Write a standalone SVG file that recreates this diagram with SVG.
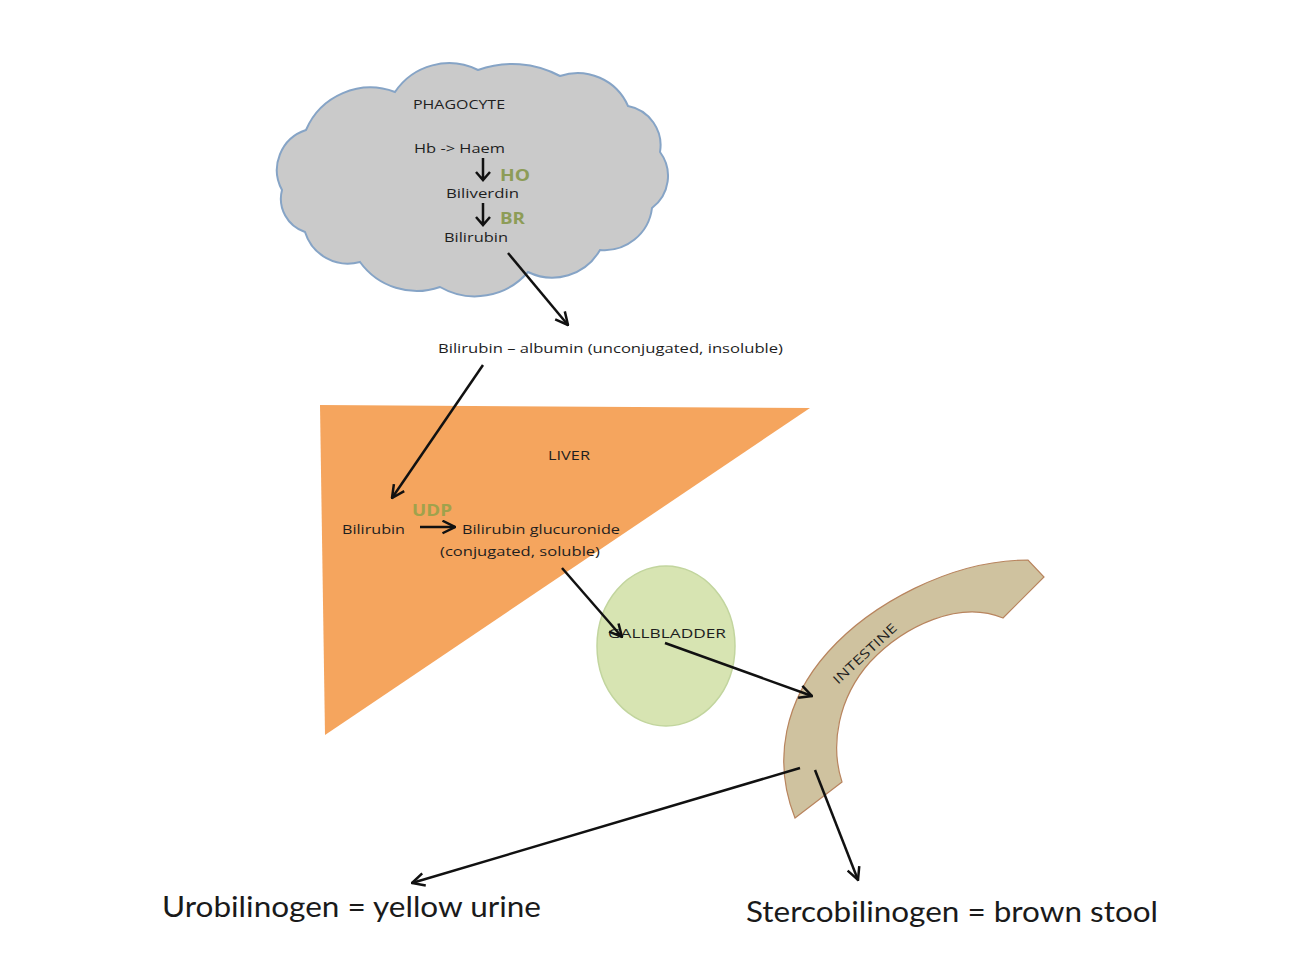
<svg xmlns="http://www.w3.org/2000/svg" width="1292" height="976" viewBox="0 0 1292 976">
<defs>
<style>
.t{font-family:"Open Sans","Liberation Sans",sans-serif;font-size:13px;fill:#1e1e1e}
.g{font-family:"Open Sans","Liberation Sans",sans-serif;font-size:16px;font-weight:bold}
.big{font-family:"Lato","Open Sans","Liberation Sans",sans-serif;font-size:29px;fill:#1a1a1a}
.c{stroke:#111;stroke-width:2.5;fill:none;marker-end:url(#ah)}
</style>
<marker id="ah" viewBox="0 0 12 12" refX="11" refY="6" markerWidth="6" markerHeight="6" orient="auto" markerUnits="strokeWidth">
<path d="M1,1 L11,6 L1,11" fill="none" stroke="#111" stroke-width="2"/>
</marker>
</defs>
<rect width="1292" height="976" fill="#fff"/>

<g id="phagocyte">
<path d="M305,232 A35,35 0 0 1 282,190 A42,42 0 0 1 306,130 A70,70 0 0 1 395,92 A65,65 0 0 1 478,70 A100,100 0 0 1 560,76 A55,55 0 0 1 628,106 A40,40 0 0 1 660,152 A40,40 0 0 1 652,208 A48,48 0 0 1 600,250 A55,55 0 0 1 528,272 A70,70 0 0 1 440,287 A70,70 0 0 1 360,262 A45,45 0 0 1 305,232 Z" fill="#cacaca" stroke="#86a4c6" stroke-width="2"/>
<text class="t" x="413" y="109" textLength="92" lengthAdjust="spacingAndGlyphs">PHAGOCYTE</text>
<text class="t" x="414" y="153" textLength="91" lengthAdjust="spacingAndGlyphs">Hb -&gt; Haem</text>
<path d="M483,158 V180 M476,172 L483,180 L490,172" stroke="#111" stroke-width="2.5" fill="none"/>
<text class="g" x="500" y="181" fill="#8d9c57" textLength="30" lengthAdjust="spacingAndGlyphs">HO</text>
<text class="t" x="446" y="198" textLength="73" lengthAdjust="spacingAndGlyphs">Biliverdin</text>
<path d="M483,203 V225 M476,217 L483,225 L490,217" stroke="#111" stroke-width="2.5" fill="none"/>
<text class="g" x="500" y="224" fill="#8d9c57" textLength="25" lengthAdjust="spacingAndGlyphs">BR</text>
<text class="t" x="444" y="242" textLength="64" lengthAdjust="spacingAndGlyphs">Bilirubin</text>
</g>

<g id="albumin">
<text class="t" x="438" y="353" textLength="345" lengthAdjust="spacingAndGlyphs">Bilirubin – albumin (unconjugated, insoluble)</text>
</g>

<g id="liver">
<polygon points="320,405 810,408 325,735" fill="#f5a55e"/>
<text class="t" x="548" y="460" textLength="42" lengthAdjust="spacingAndGlyphs">LIVER</text>
<text class="g" x="412" y="516" fill="#a0a24c" textLength="40" lengthAdjust="spacingAndGlyphs">UDP</text>
<text class="t" x="342" y="534" textLength="63" lengthAdjust="spacingAndGlyphs">Bilirubin</text>
<text class="t" x="462" y="534" textLength="158" lengthAdjust="spacingAndGlyphs">Bilirubin glucuronide</text>
<text class="t" x="440" y="556" textLength="160" lengthAdjust="spacingAndGlyphs">(conjugated, soluble)</text>
</g>

<g id="gallbladder">
<ellipse cx="666" cy="646" rx="69" ry="80" fill="#d7e4b2" stroke="#c2d59e" stroke-width="1.5"/>
<text class="t" x="608" y="638" textLength="118" lengthAdjust="spacingAndGlyphs">GALLBLADDER</text>
</g>

<g id="intestine">
<path d="M795,818 C772,760 785,700 828,652 C870,605 950,560 1028,560 L1044,577 L1003,618 C960,600 905,625 870,662 C838,698 830,745 842,782 Z" fill="#cfc29f" stroke="#b8845e" stroke-width="1.2"/>
<text class="t" x="0" y="0" text-anchor="middle" transform="translate(868,657) rotate(-43)" textLength="82" lengthAdjust="spacingAndGlyphs">INTESTINE</text>
</g>

<g id="urobilinogen">
<text class="big" x="162" y="917" textLength="379" lengthAdjust="spacingAndGlyphs">Urobilinogen = yellow urine</text>
</g>
<g id="stercobilinogen">
<text class="big" x="746" y="922" textLength="412" lengthAdjust="spacingAndGlyphs">Stercobilinogen = brown stool</text>
</g>

<g id="connectors">
<line class="c" x1="508" y1="253" x2="568" y2="325"/>
<line class="c" x1="483" y1="365" x2="392" y2="498"/>
<line class="c" x1="420" y1="527" x2="455" y2="527"/>
<line class="c" x1="562" y1="568" x2="622" y2="637"/>
<line class="c" x1="665" y1="643" x2="812" y2="696"/>
<line class="c" x1="800" y1="768" x2="412" y2="883"/>
<line class="c" x1="815" y1="770" x2="858" y2="880"/>
</g>
</svg>
